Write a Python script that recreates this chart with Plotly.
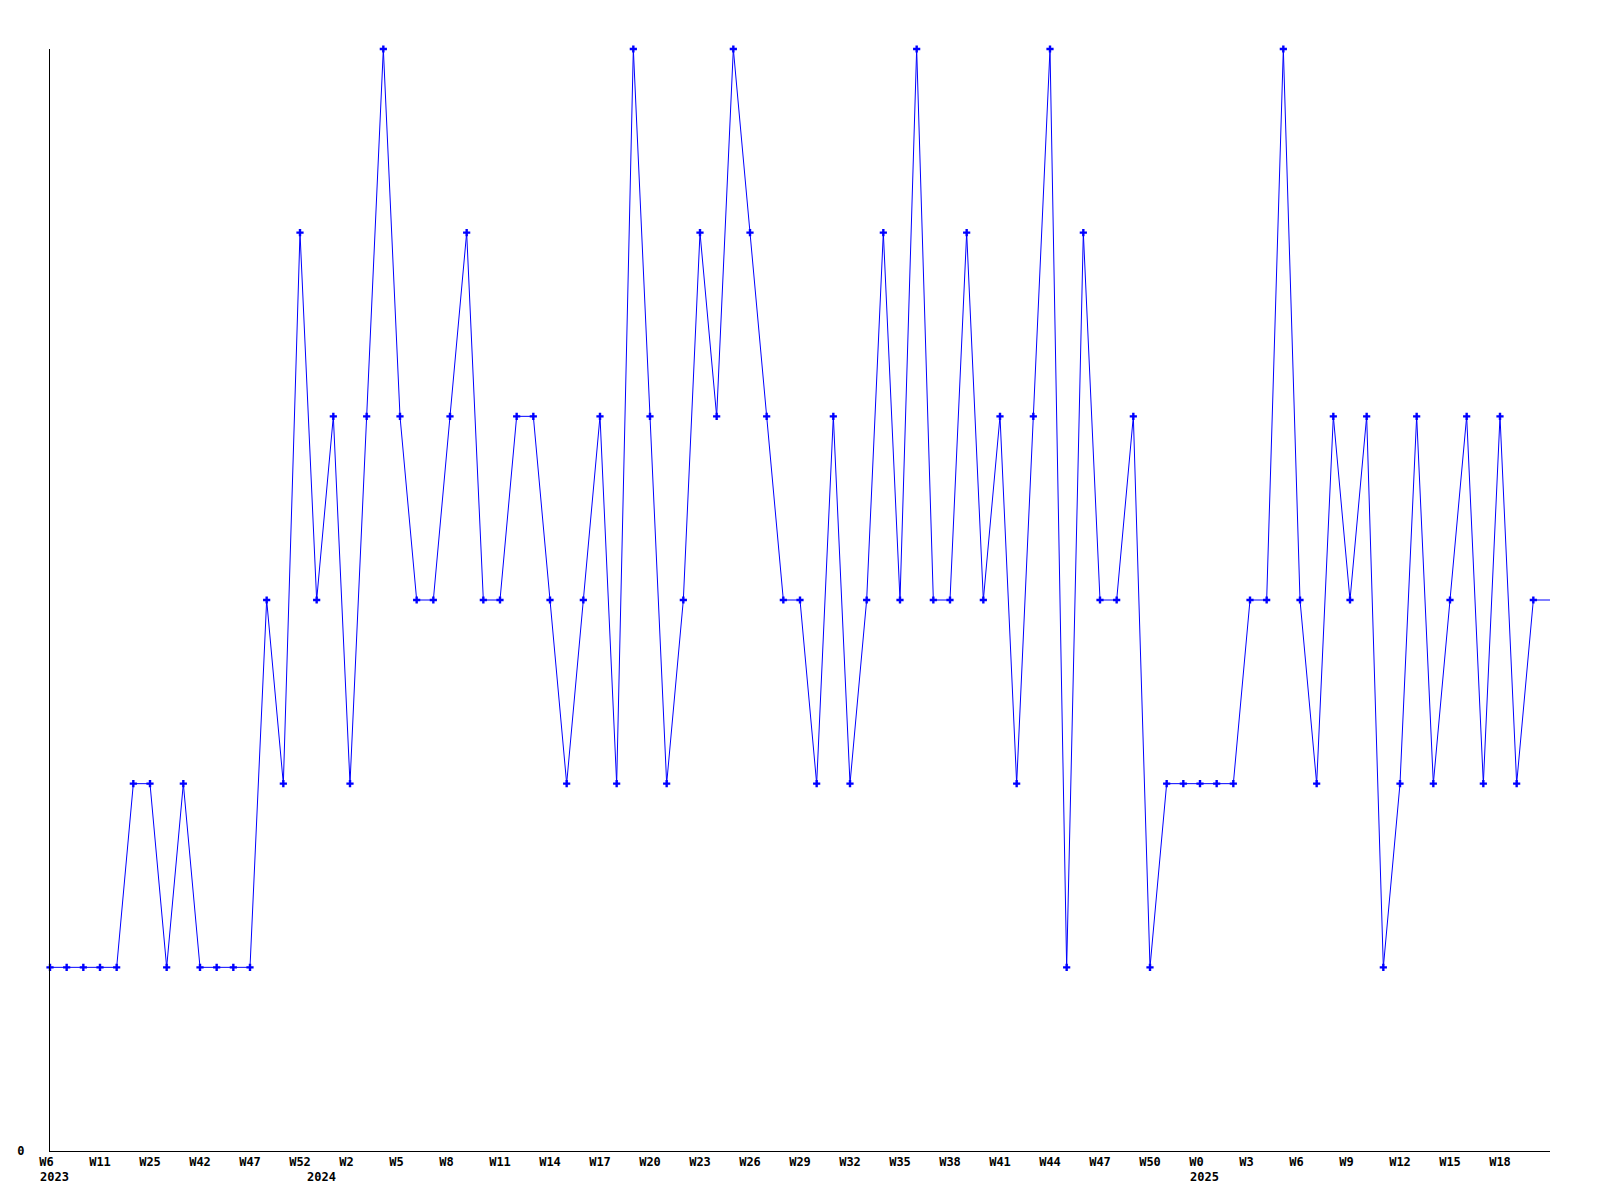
import plotly.graph_objects as go

values = [1, 1, 1, 1, 1, 2, 2, 1, 2, 1,
          1, 1, 1, 3, 2, 5, 3, 4, 2, 4,
          6, 4, 3, 3, 4, 5, 3, 3, 4, 4,
          3, 2, 3, 4, 2, 6, 4, 2, 3, 5,
          4, 6, 5, 4, 3, 3, 2, 4, 2, 3,
          5, 3, 6, 3, 3, 5, 3, 4, 2, 4,
          6, 1, 5, 3, 3, 4, 1, 2, 2, 2,
          2, 2, 3, 3, 6, 3, 2, 4, 3, 4,
          1, 2, 4, 2, 3, 4, 2, 4, 2, 3,
          3]

week_labels = ["W6", "W11", "W25", "W42", "W47", "W52", "W2", "W5", "W8", "W11",
               "W14", "W17", "W20", "W23", "W26", "W29", "W32", "W35", "W38", "W41",
               "W44", "W47", "W50", "W0", "W3", "W6", "W9", "W12", "W15", "W18"]
label_step = 3

year_labels = ["2023", "2024", "2025"]
year_positions = [0, 16, 69]

x = list(range(len(values)))
tick_vals = [i * label_step for i in range(len(week_labels))]
tick_text = [(t + "\u00a0" if len(t) == 2 else t) for t in week_labels]

font_family = "DejaVu Sans Mono"

fig = go.Figure()
fig.add_trace(go.Scatter(
    x=x, y=values, mode="lines",
    line=dict(color="#0000ff", width=1),
    showlegend=False, cliponaxis=False,
))
fig.add_trace(go.Scatter(
    x=x[:-1], y=values[:-1], mode="markers",
    marker=dict(symbol="cross", size=6, color="#0000ff", line=dict(width=0)),
    showlegend=False, cliponaxis=False,
))

for yr, pos in zip(year_labels, year_positions):
    fig.add_annotation(
        x=pos, y=0, xref="x", yref="paper", text=yr, showarrow=False,
        xanchor="left", yanchor="middle", xshift=-12, yshift=-26,
        font=dict(family=font_family, size=12, color="black", weight="bold"),
    )

fig.update_layout(
    width=1600, height=1200,
    margin=dict(l=50, r=50, t=49, b=49),
    paper_bgcolor="white", plot_bgcolor="white",
    xaxis=dict(
        range=[0, len(values) - 1], tickmode="array", tickvals=tick_vals, ticktext=tick_text,
        showgrid=False, zeroline=False, showline=True, linecolor="black", linewidth=1,
        ticks="", tickangle=0,
        tickfont=dict(family=font_family, size=12, color="black", weight="bold"),
    ),
    yaxis=dict(
        range=[0, 6], tickmode="array", tickvals=[0], ticktext=["0"],
        showgrid=False, zeroline=False, showline=True, linecolor="black", linewidth=1,
        ticks="outside", ticklen=22, tickcolor="rgba(0,0,0,0)",
        tickfont=dict(family=font_family, size=12, color="black", weight="bold"),
    ),
)

fig.write_html("out.html", config={"displayModeBar": False},
               post_script="document.body.style.margin='0';")
